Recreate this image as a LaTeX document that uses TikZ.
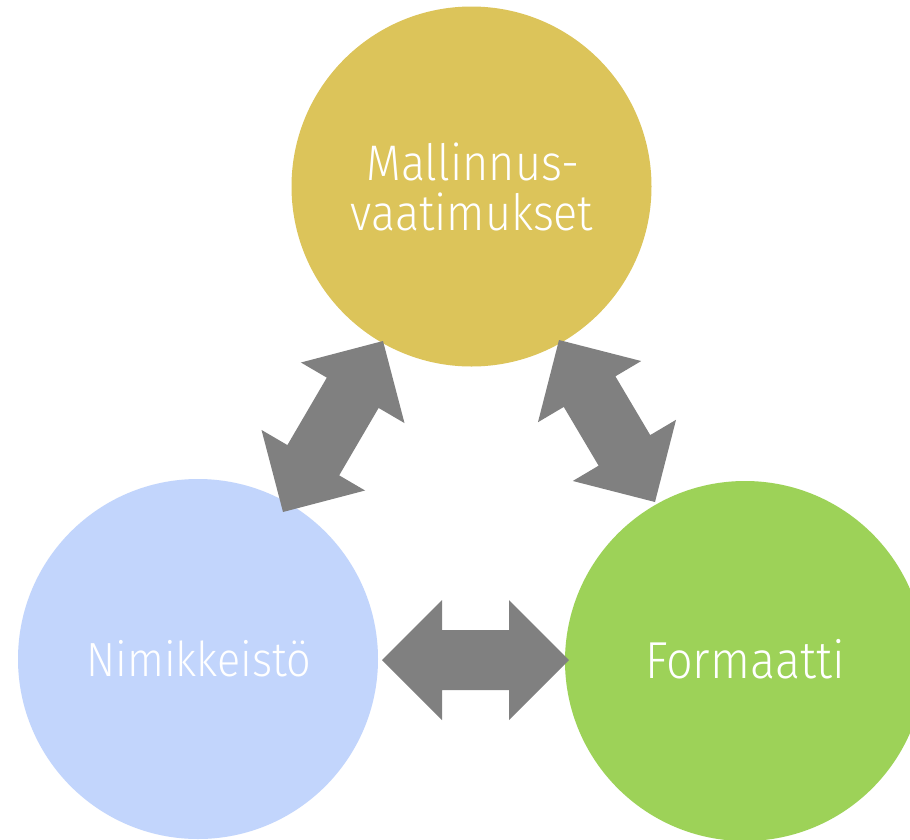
\documentclass[tikz,border=0pt]{standalone}
\usepackage{fontspec}
\setmainfont{FiraSans-Light}[FakeStretch=0.9]
\usetikzlibrary{calc}
\definecolor{cyellow}{HTML}{DCC45A}
\definecolor{cblue}{HTML}{C2D5FC}
\definecolor{cgreen}{HTML}{9DD258}
\definecolor{cgray}{HTML}{808080}
\tikzset{
  bubble/.style={circle, minimum size=360pt, inner sep=0pt, draw=none},
  label/.style={text=white, inner sep=0pt, anchor=base},
  arrowfill/.style={fill=cgray},
}
\newcommand\dblarrow[2]{%
  \coordinate (ha) at ($(#1)!60pt!(#2)$);
  \coordinate (hb) at ($(#2)!60pt!(#1)$);
  \fill[arrowfill] (#1) -- ($(ha)!60pt!90:(#2)$) -- ($(ha)!30pt!90:(#2)$)
    -- ($(hb)!30pt!-90:(#1)$) -- ($(hb)!60pt!-90:(#1)$) -- (#2)
    -- ($(hb)!60pt!90:(#1)$) -- ($(hb)!30pt!90:(#1)$)
    -- ($(ha)!30pt!-90:(#2)$) -- ($(ha)!60pt!-90:(#2)$) -- cycle;}
\begin{document}
\begin{tikzpicture}[x=1pt,y=-1pt]
\useasboundingbox (0,0) rectangle (910,839);
\fill[white] (0,0) rectangle (910,839);
\node[bubble, fill=cyellow] (top) at (471.5,186.5) {};
\node[bubble, fill=cblue] (nim) at (198,659) {};
\node[bubble, fill=cgreen] (form) at (745,661) {};
\node[label, font=\fontsize{50}{50}\selectfont] (t1) at (473,180) {Mallinnus-};
\node[label, font=\fontsize{50}{50}\selectfont] (t2) at (472,230) {vaatimukset};
\node[label, font=\fontsize{48}{48}\selectfont] (t3) at (199,676) {Nimikkeistö};
\node[label, font=\fontsize{52}{52}\selectfont] (t4) at (745,678) {Formaatti};
\coordinate (h1) at (382,660);
\coordinate (h2) at (569,660);
\coordinate (l1) at (383,341);
\coordinate (l2) at (283,512);
\coordinate (r1) at (559,340);
\coordinate (r2) at (655,502);
\dblarrow{h1}{h2}
\dblarrow{l1}{l2}
\dblarrow{r1}{r2}
\end{tikzpicture}
\end{document}
